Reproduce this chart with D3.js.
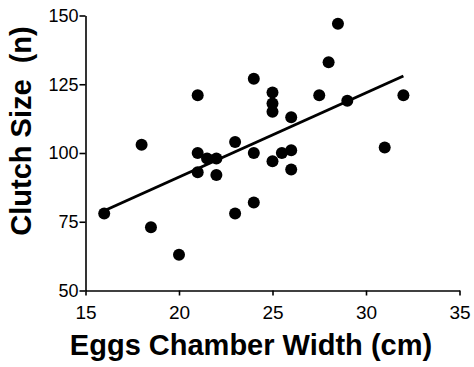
<!DOCTYPE html>
<meta charset="utf-8">
<title>Clutch size vs chamber width</title>
<body style="margin:0;background:#fff">
<script src="https://d3js.org/d3.v7.min.js"></script>
<div id="chart"></div>
<script>

// eggs chamber width (cm) and clutch size (n) per nest
var width_cm = [16, 18, 18.5, 20, 21, 21, 21, 21.5, 22, 22, 23, 23, 24, 24, 24,
                25, 25, 25, 25, 25.5, 26, 26, 26, 27.5, 28, 28.5, 29, 31, 32];
var clutch_n = [78, 103, 73, 63, 121, 100, 93, 98, 98, 92, 104, 78, 127, 100, 82,
                122, 118, 115, 97, 100, 113, 101, 94, 121, 133, 147, 119, 102, 121];

// fitted line end points
var fit_x = [16, 32];
var fit_y = [79, 128];

var x_ticks = [15, 20, 25, 30, 35];
var y_ticks = [50, 75, 100, 125, 150];

var W = 474, H = 367;

var svg = d3.select("#chart")
  .append("svg")
    .attr("width", W)
    .attr("height", H);

var x = d3.scaleLinear()
  .domain([15, 35])
  .range([85.5, 459.5]);

var y = d3.scaleLinear()
  .domain([50, 150])
  .range([290.5, 15.5]);

// x axis
var gx = svg.append("g")
  .attr("transform", "translate(0," + y(50) + ")")
  .call(d3.axisBottom(x).tickValues(x_ticks).tickSize(5).tickSizeOuter(0).tickPadding(10));

// y axis
var gy = svg.append("g")
  .attr("transform", "translate(" + x(15) + ",0)")
  .call(d3.axisLeft(y).tickValues(y_ticks).tickSize(6).tickSizeOuter(0).tickPadding(1));

gx.selectAll("text").style("font-size", "19px");
gy.selectAll("text").style("font-size", "18px");
svg.selectAll(".tick text")
  .style("font-family", "'Liberation Sans', Arial, sans-serif")
  .attr("fill", "#000");
svg.selectAll(".domain, .tick line")
  .attr("stroke", "#000")
  .attr("stroke-width", 1.6);

// regression line
var line = d3.line()
  .x(function (d) { return x(d[0]); })
  .y(function (d) { return y(d[1]); });

svg.append("path")
  .datum(d3.zip(fit_x, fit_y))
  .attr("d", line)
  .attr("fill", "none")
  .attr("stroke", "#000")
  .attr("stroke-width", 3);

// points
svg.append("g")
  .selectAll("circle")
  .data(d3.zip(width_cm, clutch_n))
  .enter()
  .append("circle")
    .attr("cx", function (d) { return x(d[0]); })
    .attr("cy", function (d) { return y(d[1]); })
    .attr("r", 6)
    .attr("fill", "#000");

// axis titles
svg.append("text")
  .attr("x", 251)
  .attr("y", 355)
  .attr("text-anchor", "middle")
  .style("font-family", "'Liberation Sans', Arial, sans-serif")
  .style("font-weight", "bold")
  .style("font-size", "29px")
  .text("Eggs Chamber Width (cm)");

svg.append("text")
  .attr("transform", "translate(31,131) rotate(-90)")
  .attr("text-anchor", "middle")
  .style("font-family", "'Liberation Sans', Arial, sans-serif")
  .style("font-weight", "bold")
  .style("font-size", "29px")
  .style("white-space", "pre")
  .text("Clutch Size  (n)");

</script>
